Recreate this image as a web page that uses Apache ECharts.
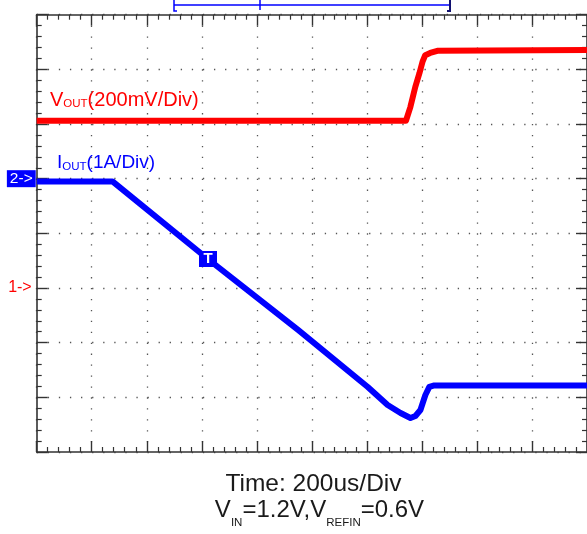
<!DOCTYPE html>
<html><head><meta charset="utf-8">
<script src="https://cdn.jsdelivr.net/npm/echarts@6/dist/echarts.min.js"></script>
<style>html,body{margin:0;padding:0;background:#fff}#c{width:587px;height:534px}</style>
</head><body><div id="c"></div>
<script>
// Time in divisions (200us/Div), levels in screen divisions (0 = bottom graticule line)
const voutTime  = [0, 6.71, 6.79, 6.88, 6.955, 7.01, 7.06, 7.15, 7.28, 10];
const voutLevel = [6.06, 6.06, 6.31, 6.68, 6.93, 7.135, 7.26, 7.30, 7.34, 7.355];
const ioutTime  = [0, 1.377, 3.11, 4.755, 6.016, 6.377, 6.612, 6.792, 6.882, 6.973, 7.063, 7.135, 7.225, 10];
const ioutLevel = [4.95, 4.95, 3.53, 2.23, 1.19, 0.86, 0.713, 0.622, 0.659, 0.768, 1.043, 1.19, 1.217, 1.217];
const trigTime = 3.113, trigLevel = 3.531;
const ch1Ref = 3, ch2Ref = 5;
const xDivs = 10, yDivs = 8;
const voutLabel = ['V', 'OUT', '(200mV/Div)'];
const ioutLabel = ['I', 'OUT', '(1A/Div)'];
const timeText = 'Time: 200us/Div';
const condText = ['V', 'IN', '=1.2V,V', 'REFIN', '=0.6V'];

const RED = '#ff0000', BLUE = '#0000ff', INK = '#333333';
const FONT = '"Liberation Sans", Arial, sans-serif';
const G = {left: 36.7, top: 14.7, width: 554, height: 437.3};

const chart = echarts.init(document.getElementById('c'), null, {renderer: 'canvas'});
const zip = (a, b) => a.map((v, i) => [v, b[i]]);

const tickCommon = {
  axisLine: {show: true, onZero: false, lineStyle: {color: INK, width: 1.6}},
  axisTick: {show: true, inside: true, length: 11, lineStyle: {color: INK, width: 1.4}},
  minorTick: {show: true, splitNumber: 5, length: 5, lineStyle: {color: INK, width: 1.2}},
};
const xStep = G.width / xDivs / 5, yStep = G.height / yDivs / 5;

const option = {
  animation: false,
  backgroundColor: '#fff',
  grid: {left: G.left, top: G.top, width: G.width, height: G.height, show: false},
  xAxis: [
    Object.assign({type: 'value', min: 0, max: xDivs, interval: 1, position: 'bottom',
      axisLabel: {show: false},
      splitLine: {show: true, lineStyle: {color: '#555', width: 1.3, type: [1.3, yStep - 1.3]}}}, tickCommon),
    Object.assign({type: 'value', min: 0, max: xDivs, interval: 1, position: 'top',
      axisLabel: {show: false}, splitLine: {show: false}}, tickCommon)
  ],
  yAxis: [
    Object.assign({type: 'value', min: 0, max: yDivs, interval: 1, position: 'left',
      splitLine: {show: true, lineStyle: {color: '#555', width: 1.3, type: [1.3, xStep - 1.3]}},
      axisLabel: {show: true, margin: 1, showMinLabel: true, showMaxLabel: true,
        formatter: v => v === ch2Ref ? '{c2|2->}' : (v === ch1Ref ? '{c1|1->}' : ''),
        rich: {
          c2: {color: '#fff', backgroundColor: BLUE, fontSize: 15.5, fontFamily: FONT, lineHeight: 16, padding: [1, 3, 0, 3]},
          c1: {color: RED, fontSize: 16, fontFamily: FONT, lineHeight: 16, padding: [0, 4, 0, 0]}
        }}}, tickCommon),
    Object.assign({type: 'value', min: 0, max: yDivs, interval: 1, position: 'right',
      axisLabel: {show: false}, splitLine: {show: false}}, tickCommon)
  ],
  series: [
    {type: 'line', name: 'VOUT', data: zip(voutTime, voutLevel), showSymbol: false,
      lineStyle: {color: RED, width: 6, join: 'round'}, itemStyle: {color: RED}, z: 3},
    {type: 'line', name: 'IOUT', data: zip(ioutTime, ioutLevel), showSymbol: false,
      lineStyle: {color: BLUE, width: 6, join: 'round'}, itemStyle: {color: BLUE}, z: 4,
      markPoint: {
        symbol: 'rect', symbolSize: [18, 16], itemStyle: {color: BLUE},
        label: {show: true, formatter: 'T', color: '#fff', fontSize: 15, fontWeight: 'bold', fontFamily: FONT},
        data: [{coord: [trigTime, trigLevel]}]
      }}
  ],
  graphic: [
    // memory position bracket at top
    {type: 'line', shape: {x1: 174, y1: 5, x2: 450, y2: 5}, style: {stroke: BLUE, lineWidth: 1.5}},
    {type: 'polyline', shape: {points: [[174, 0], [174, 11], [177, 11]]}, style: {stroke: BLUE, lineWidth: 1.5, fill: null}},
    {type: 'line', shape: {x1: 260, y1: 0, x2: 260, y2: 10}, style: {stroke: BLUE, lineWidth: 1.5}},
    {type: 'polyline', shape: {points: [[450, 0], [450, 11], [447, 11]]}, style: {stroke: '#101070', lineWidth: 2, fill: null}},
    {type: 'text', x: 50, y: 86, style: {
      text: `{a|${voutLabel[0]}}{b|${voutLabel[1]}}{a|${voutLabel[2]}}`, verticalAlign: 'top',
      rich: {a: {fontSize: 20, lineHeight: 24, fill: RED, fontFamily: FONT, verticalAlign: 'bottom'},
             b: {fontSize: 11.5, lineHeight: 18, fill: RED, fontFamily: FONT, verticalAlign: 'bottom'}}}},
    {type: 'text', x: 57, y: 150.5, style: {
      text: `{a|${ioutLabel[0]}}{b|${ioutLabel[1]}}{a|${ioutLabel[2]}}`, verticalAlign: 'top',
      rich: {a: {fontSize: 19, lineHeight: 22, fill: BLUE, fontFamily: FONT, verticalAlign: 'bottom'},
             b: {fontSize: 11.5, lineHeight: 17, fill: BLUE, fontFamily: FONT, verticalAlign: 'bottom'}}}},
    {type: 'text', x: 313.5, y: 484.5, style: {text: timeText, fontSize: 24.5, fontFamily: FONT,
      fill: '#1a1a1a', align: 'center', verticalAlign: 'middle'}},
    {type: 'text', x: 319.5, y: 498.6, style: {
      text: `{a|${condText[0]}}{b|${condText[1]}}{a|${condText[2]}}{b|${condText[3]}}{a|${condText[4]}}`,
      align: 'center', verticalAlign: 'top',
      rich: {a: {fontSize: 24, lineHeight: 30, fill: '#1a1a1a', fontFamily: FONT, verticalAlign: 'top'},
             b: {fontSize: 11.5, lineHeight: 12, fill: '#1a1a1a', fontFamily: FONT, verticalAlign: 'bottom'}}}}
  ]
};
chart.setOption(option);
</script></body></html>
